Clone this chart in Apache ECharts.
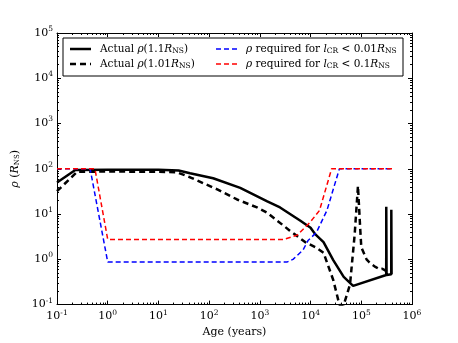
<!DOCTYPE html>
<html>
<head>
<meta charset="utf-8">
<script src="https://cdn.jsdelivr.net/npm/echarts@6/dist/echarts.min.js"></script>
<style>
  html, body { margin: 0; padding: 0; background: #fff; }
  #chart { width: 458px; height: 343px; }
</style>
</head>
<body>
<div id="chart"></div>
<script>
// Actual rho(1.1 R_NS)
const ageSolid = [0.1, 0.23, 1, 10, 25, 42, 120, 410, 1400, 2500, 6200, 1.0e4, 1.23e4, 1.8e4, 2.8e4, 4.5e4, 6.9e4, 3.1e5, 3.11e5, 3.14e5, 3.15e5, 3.9e5, 3.91e5, 3.94e5, 3.96e5]
const rhoSolid = [50, 94, 95, 95, 92, 80, 62, 38, 19, 14, 7.2, 5, 3.6, 2.4, 0.96, 0.41, 0.26, 0.45, 14.5, 14.5, 0.45, 0.47, 12.4, 12.4, 0.47]

// Actual rho(1.01 R_NS)
const ageDashed = [0.1, 0.25, 1, 10, 23, 42, 145, 355, 880, 1400, 3900, 7800, 1.3e4, 1.8e4, 2.8e4, 3.7e4, 4.4e4, 6e4, 7.4e4, 8.6e4, 9.5e4, 1.0e5, 1.15e5, 1.27e5, 1.45e5, 1.67e5, 1.9e5, 2.3e5, 2.6e5, 2.9e5, 3.4e5]
const rhoDashed = [32, 86, 87, 86, 84, 65, 35, 21, 14, 10.7, 4.3, 2.4, 1.8, 1.4, 0.35, 0.1, 0.09, 0.28, 3.5, 42, 5, 1.85, 1.3, 1.0, 0.85, 0.75, 0.68, 0.6, 0.62, 0.58, 0.5]

// rho required for l_CR < 0.01 R_NS
const ageBlue = [0.1, 0.45, 1.0, 3400, 4500, 7100, 8900, 1.3e4, 2.1e4, 3.7e4, 4.1e5]
const rhoBlue = [100, 100, 0.87, 0.87, 1.0, 1.6, 2.6, 3.9, 12, 100, 100]

// rho required for l_CR < 0.1 R_NS
const ageRed = [0.1, 0.56, 1.0, 2900, 5400, 9700, 1.5e4, 2.6e4, 4.1e5]
const rhoRed = [100, 100, 2.75, 2.75, 3.4, 6.5, 12, 100, 100]

const seriesNames = ['solid', 'dashed', 'blue', 'red']
const legendLabels = {
  solid: 'Actual {i|ρ}(1.1{i|R}{sub|NS})',
  dashed: 'Actual {i|ρ}(1.01{i|R}{sub|NS})',
  blue: '{i|ρ} required for {i|l}{sub|CR} < 0.01{i|R}{sub|NS}',
  red: '{i|ρ} required for {i|l}{sub|CR} < 0.1{i|R}{sub|NS}'
}

const font = 'DejaVu Serif'

function pairs(xs, ys) {
  return xs.map((x, i) => [x, ys[i]])
}

function powLabel(v) {
  var e = Math.round(Math.log10(v))
  return '{b|10}{s|' + e + '}'
}

const tickRich = {
  b: { fontFamily: font, fontSize: 11, color: '#000' },
  s: { fontFamily: font, fontSize: 7.5, color: '#000', padding: [0, 0, 8, 0] }
}

const legendRich = {
  i: { fontFamily: font, fontSize: 10.5, fontStyle: 'italic', color: '#000' },
  sub: { fontFamily: font, fontSize: 7.5, color: '#000', padding: [5, 0, 0, 0] }
}

function makeAxis(kind, pos, main) {
  const ax = {
    type: 'log',
    logBase: 10,
    position: pos,
    min: 0.1,
    max: kind == 'x' ? 1e6 : 1e5,
    axisLine: { show: true, onZero: false, lineStyle: { color: '#000', width: 1 } },
    axisTick: { show: true, inside: true, length: 4, lineStyle: { color: '#000' } },
    minorTick: { show: true, splitNumber: 9, length: 2, lineStyle: { color: '#000' } },
    splitLine: { show: false },
    axisLabel: { show: main, formatter: powLabel, rich: tickRich, margin: 4 }
  }
  return ax
}

const xMain = makeAxis('x', 'bottom', true)
xMain.name = 'Age (years)'
xMain.nameLocation = 'middle'
xMain.nameGap = 22
xMain.nameTextStyle = { fontFamily: font, fontSize: 11, color: '#000' }

const yMain = makeAxis('y', 'left', true)
yMain.name = '{i|ρ} ({i|R}{sub|NS})'
yMain.nameLocation = 'middle'
yMain.nameGap = 28
yMain.nameRotate = 90
yMain.nameTextStyle = {
  fontFamily: font, fontSize: 11, color: '#000',
  rich: {
    i: { fontFamily: font, fontSize: 11, fontStyle: 'italic', color: '#000' },
    sub: { fontFamily: font, fontSize: 7, color: '#000', padding: [5, 0, 0, 0] }
  }
}

const styles = {
  solid: { color: '#000', width: 2.5, type: 'solid' },
  dashed: { color: '#000', width: 2.5, type: [6, 4] },
  blue: { color: '#0000ff', width: 1.5, type: [5, 3] },
  red: { color: '#ff0000', width: 1.5, type: [5, 3] }
}
const dataMap = {
  solid: pairs(ageSolid, rhoSolid),
  dashed: pairs(ageDashed, rhoDashed),
  blue: pairs(ageBlue, rhoBlue),
  red: pairs(ageRed, rhoRed)
}

// legend drawn by hand: box, line samples, labels
const legendSlots = { solid: [70, 49], dashed: [70, 64], blue: [216, 49], red: [216, 64] }
const legendGraphic = [{
  type: 'rect',
  shape: { x: 63, y: 38, width: 340, height: 38 },
  style: { fill: '#fff', stroke: '#000', lineWidth: 1 },
  z: 10
}]
seriesNames.forEach((n) => {
  const [lx, ly] = legendSlots[n]
  const st = styles[n]
  legendGraphic.push({
    type: 'line',
    shape: { x1: lx, y1: ly, x2: lx + 21, y2: ly },
    style: { stroke: st.color, lineWidth: st.width, lineDash: st.type == 'solid' ? null : st.type },
    z: 11
  })
  legendGraphic.push({
    type: 'text',
    x: lx + 30,
    y: ly,
    style: {
      text: legendLabels[n],
      fontFamily: font, fontSize: 10.5, fill: '#000',
      verticalAlign: 'middle',
      rich: legendRich
    },
    z: 11
  })
})

const chart = echarts.init(document.getElementById('chart'))

const option = {
  animation: false,
  backgroundColor: '#fff',
  grid: { left: 57, right: 46, top: 33, bottom: 35 },
  xAxis: [xMain, makeAxis('x', 'top', false)],
  yAxis: [yMain, makeAxis('y', 'right', false)],
  graphic: legendGraphic,
  series: seriesNames.map((n) => ({
    name: n,
    type: 'line',
    data: dataMap[n],
    showSymbol: false,
    symbol: 'none',
    lineStyle: styles[n],
    itemStyle: { color: styles[n].color },
    clip: true
  }))
}

chart.setOption(option)
</script>
</body>
</html>
